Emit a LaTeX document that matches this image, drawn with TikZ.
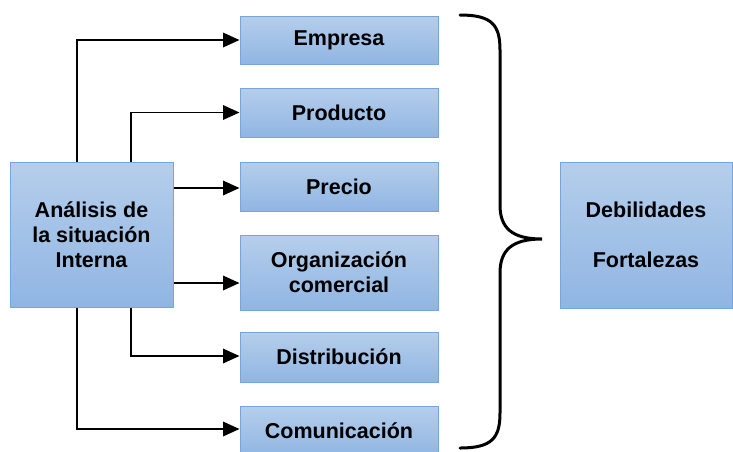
\documentclass[tikz,border=0pt]{standalone}
\usepackage{fontspec}
\setmainfont{Liberation Sans}
\usetikzlibrary{arrows.meta}
\definecolor{boxtop}{RGB}{181,206,235}
\definecolor{boxbot}{RGB}{144,181,227}
\definecolor{boxline}{RGB}{118,165,221}
\tikzset{
  blk/.style={draw=boxline, line width=1pt, top color=boxtop, bottom color=boxbot,
    rectangle, inner sep=0pt, align=center,
    font=\fontsize{21.5}{25}\selectfont\bfseries},
  arr/.style={line width=1.8pt, -{Triangle[length=16.5pt,width=14.5pt]}},
}
\begin{document}
\begin{tikzpicture}[x=1pt,y=-1pt]
\useasboundingbox (0,0) rectangle (733,451);
\node[blk, minimum width=163pt, minimum height=145pt] (main) at (91.5,234.5) {Análisis de\\la situación\\Interna};
\node[blk, minimum width=198pt, minimum height=48pt] (emp) at (339,40) {Empresa};
\node[blk, minimum width=198pt, minimum height=49pt] (pro) at (339,112.5) {Producto};
\node[blk, minimum width=198pt, minimum height=49pt] (pre) at (339,186.5) {Precio};
\node[blk, minimum width=198pt, minimum height=75pt] (org) at (339,272.5) {Organización\\comercial};
\node[blk, minimum width=198pt, minimum height=50pt] (dis) at (339,357) {Distribución};
\node[blk, minimum width=198pt, minimum height=50pt] (com) at (339,431) {Comunicación};
\node[blk, minimum width=172pt, minimum height=146pt] (deb) at (646,235) {Debilidades\\[25pt]Fortalezas};

\draw[arr] ([xshift=-14.5pt]main.north) |- (emp.west);
\draw[arr] ([xshift=39.5pt]main.north) |- (pro.west);
\draw[arr] ([yshift=-1.5pt]pre.west -| main.east) -- ([yshift=-1.5pt]pre.west);
\draw[arr] ([yshift=-10.5pt]org.west -| main.east) -- ([yshift=-10.5pt]org.west);
\draw[arr] ([xshift=39.5pt]main.south) |- ([yshift=1pt]dis.west);
\draw[arr] ([xshift=-14.5pt]main.south) |- ([yshift=2pt]com.west);

\coordinate (tip) at (542,239);
\draw[line width=3pt, line cap=round]
  (460,15) .. controls (492,15) and (500,25) .. (500,50)
  -- (500,205) .. controls (500,228) and (512,239) .. (tip)
  .. controls (512,239) and (500,250) .. (500,273)
  -- (500,413) .. controls (500,438) and (492,448) .. (460,448);
\end{tikzpicture}
\end{document}
